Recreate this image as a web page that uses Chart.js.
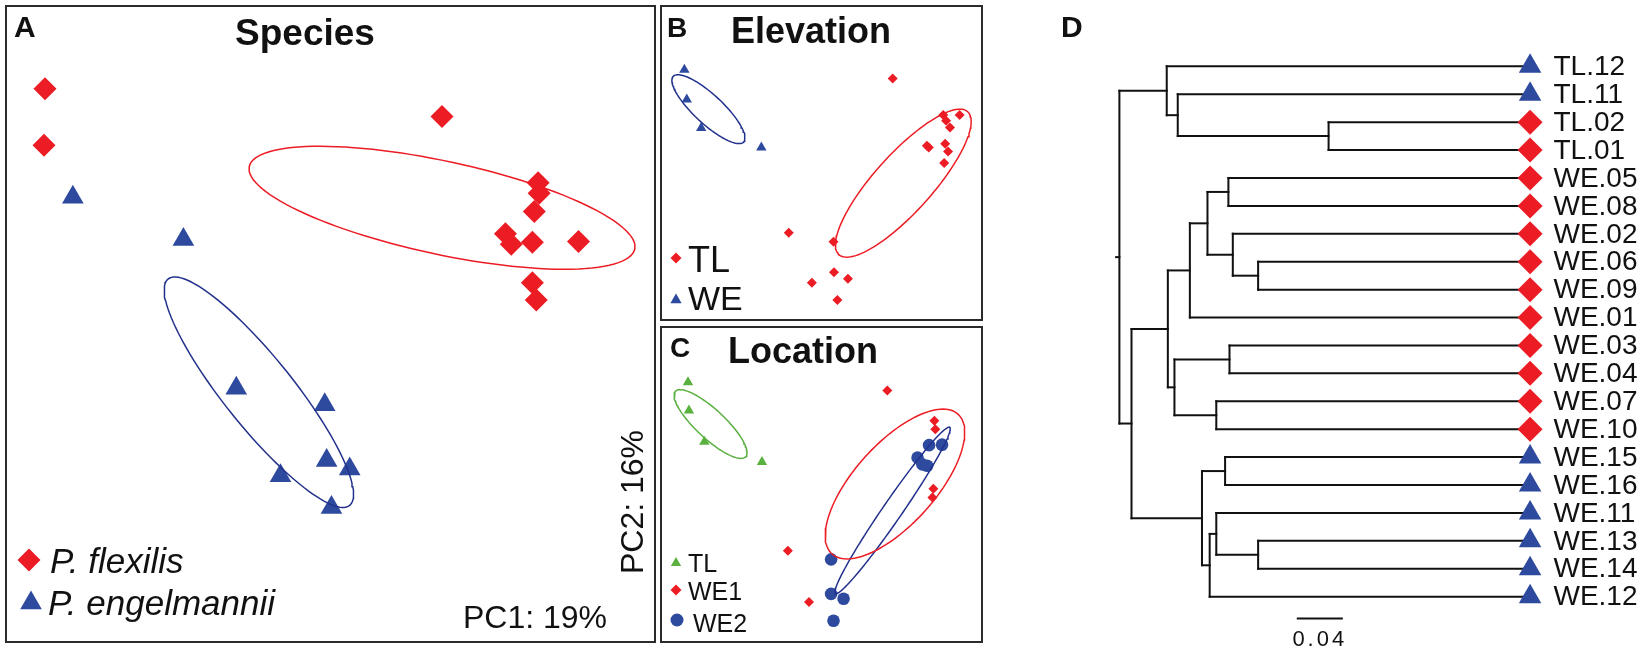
<!DOCTYPE html>
<html>
<head>
<meta charset="utf-8">
<script src="https://cdn.jsdelivr.net/npm/chart.js@4.4.1/dist/chart.umd.min.js"></script>
<style>
  body { margin: 0; background: #fff; width: 1650px; height: 663px; position: relative; overflow: hidden; }
  .box { position: absolute; box-sizing: border-box; border: 2px solid #2b2b2b; }
  canvas { position: absolute; }
</style>
</head>
<body>
<div class="box" style="left:5px;top:5px;width:651px;height:638px"></div>
<div class="box" style="left:660px;top:5px;width:323px;height:316px"></div>
<div class="box" style="left:660px;top:326px;width:323px;height:317px"></div>
<canvas id="chartA" width="647" height="634" style="left:7px;top:7px"></canvas>
<canvas id="chartB" width="319" height="312" style="left:662px;top:7px"></canvas>
<canvas id="chartC" width="319" height="313" style="left:662px;top:328px"></canvas>
<canvas id="chartD" width="610" height="663" style="left:1040px;top:0px"></canvas>
<script>
// PCA scores (PC1 = x, PC2 = y, arbitrary units)

// A - Species
var speciesFlexX = [-2.97, -2.98, 1.16, 2.16, 2.17, 2.12, 1.82, 1.88, 2.10, 2.58, 2.10, 2.14];
var speciesFlexY = [2.45, 1.86, 2.16, 1.47, 1.36, 1.17, 0.94, 0.83, 0.85, 0.86, 0.43, 0.25];
var speciesEngX = [-2.68, -1.53, -0.98, -0.06, -0.04, 0.20, -0.52, 0.01];
var speciesEngY = [1.32, 0.88, -0.67, -0.84, -1.42, -1.51, -1.58, -1.91];
// ellipses: [centre x, centre y, semi-major, semi-minor, angle deg]
var speciesFlexEllipse = [1.16, 1.21, 2.05, 0.485, -12.1];
var speciesEngEllipse = [-0.745, -0.71, 1.51, 0.36, -51.3];

// B - Elevation
var elevTLX = [1.48, -0.68, 0.25, 0.26, 0.55, -0.20, 0.33, 2.53, 2.59, 2.67, 2.87, 2.19, 2.23, 2.57, 2.63, 2.55];
var elevTLY = [1.76, -1.45, -1.64, -2.27, -2.41, -2.49, -2.85, 1.00, 0.88, 0.74, 1.00, 0.36, 0.32, 0.40, 0.24, 0.00];
var elevWEX = [-2.85, -2.80, -2.50, -1.25];
var elevWEY = [1.94, 1.32, 0.73, 0.32];
var elevTLEllipse = [1.70, -0.42, 2.0, 0.6, 48];
var elevWEEllipse = [-2.35, 1.12, 1.0, 0.3, -43];

// C - Location
var locTLX = [-2.78, -2.76, -2.44, -1.24];
var locTLY = [2.13, 1.54, 0.89, 0.47];
var locWE1X = [1.37, -0.70, -0.26, 2.35, 2.37, 2.33, 2.31];
var locWE1Y = [1.96, -1.38, -2.45, 1.33, 1.15, -0.09, -0.27];
var locWE2X = [0.20, 0.20, 0.46, 0.25, 2.00, 2.10, 2.24, 2.20, 2.51];
var locWE2Y = [-1.56, -2.28, -2.38, -2.84, 0.56, 0.42, 0.82, 0.39, 0.83];
var locTLEllipse = [-2.31, 1.26, 1.0, 0.3, -43];
var locWE1Ellipse = [1.53, 0.01, 1.96, 0.84, 48];
var locWE2Ellipse = [1.48, -0.54, 2.1, 0.2, 55.5];

// D - tree
var leafNames = ['TL.12', 'TL.11', 'TL.02', 'TL.01', 'WE.05', 'WE.08', 'WE.02', 'WE.06', 'WE.09', 'WE.01',
                 'WE.03', 'WE.04', 'WE.07', 'WE.10', 'WE.15', 'WE.16', 'WE.11', 'WE.13', 'WE.14', 'WE.12'];
var leafSpecies = ['eng', 'eng', 'flex', 'flex', 'flex', 'flex', 'flex', 'flex', 'flex', 'flex',
                   'flex', 'flex', 'flex', 'flex', 'eng', 'eng', 'eng', 'eng', 'eng', 'eng'];
// [node, child 1, child 2, distance from root]
var treeMerges = [
  ['n1', 'TL.02', 'TL.01', 0.190],
  ['n2', 'TL.11', 'n1', 0.053],
  ['n3', 'TL.12', 'n2', 0.043],
  ['n4', 'WE.05', 'WE.08', 0.099],
  ['n5', 'WE.06', 'WE.09', 0.126],
  ['n6', 'WE.02', 'n5', 0.103],
  ['n7', 'n4', 'n6', 0.080],
  ['n8', 'n7', 'WE.01', 0.064],
  ['n9', 'WE.03', 'WE.04', 0.100],
  ['n10', 'WE.07', 'WE.10', 0.088],
  ['n11', 'n9', 'n10', 0.050],
  ['n12', 'n8', 'n11', 0.044],
  ['n13', 'WE.15', 'WE.16', 0.096],
  ['n14', 'WE.13', 'WE.14', 0.126],
  ['n15', 'WE.11', 'n14', 0.088],
  ['n16', 'n15', 'WE.12', 0.082],
  ['n17', 'n13', 'n16', 0.075],
  ['n18', 'n12', 'n17', 0.011],
  ['root', 'n3', 'n18', 0]
];
var leafDepth = 0.367;
var scaleBarLength = 0.04;

var FONT = '"Liberation Sans", Arial, sans-serif';
var RED = '#ec1c24', BLUE = '#2d4a9e', GREEN = '#5ab140', NAVY = '#22318c';

function toPoints(xs, ys) {
  return xs.map(function (x, i) { return { x: x, y: ys[i] }; });
}

function ellipsePath(e) {
  var pts = [], ang = e[4] * Math.PI / 180;
  for (var k = 0; k <= 120; k++) {
    var t = k * Math.PI / 60;
    var px = e[2] * Math.cos(t), py = e[3] * Math.sin(t);
    pts.push({ x: e[0] + px * Math.cos(ang) - py * Math.sin(ang), y: e[1] + px * Math.sin(ang) + py * Math.cos(ang) });
  }
  return pts;
}

function markSet(xs, ys, style, r, color) {
  return { data: toPoints(xs, ys), pointStyle: style, pointRadius: r, pointHoverRadius: r,
           backgroundColor: color, borderColor: color, borderWidth: 0, showLine: false };
}

function ellipseSet(e, color) {
  return { data: ellipsePath(e), showLine: true, pointRadius: 0, borderColor: color,
           borderWidth: 1.5, fill: false, tension: 0 };
}

function drawMarker(ctx, style, x, y, r, color) {
  ctx.fillStyle = color;
  ctx.beginPath();
  if (style === 'rectRot') {
    ctx.moveTo(x - r, y); ctx.lineTo(x, y - r); ctx.lineTo(x + r, y); ctx.lineTo(x, y + r);
  } else if (style === 'triangle') {
    ctx.moveTo(x, y - r); ctx.lineTo(x + 0.866 * r, y + 0.5 * r); ctx.lineTo(x - 0.866 * r, y + 0.5 * r);
  } else {
    ctx.arc(x, y, r, 0, Math.PI * 2);
  }
  ctx.closePath();
  ctx.fill();
}

// texts and legend keys, given in page pixels
function textPlugin(id, left, top, items) {
  return {
    id: id,
    afterDraw: function (chart) {
      var ctx = chart.ctx;
      ctx.save();
      items.forEach(function (it) {
        var x = it.x - left, y = it.y - top;
        if (it.marker) { drawMarker(ctx, it.marker, x, y, it.r, it.color); return; }
        ctx.font = it.font;
        ctx.fillStyle = '#111';
        ctx.textAlign = it.align || 'left';
        ctx.textBaseline = 'alphabetic';
        if (it.rot) {
          ctx.save(); ctx.translate(x, y); ctx.rotate(it.rot); ctx.fillText(it.t, 0, 0); ctx.restore();
        } else {
          ctx.fillText(it.t, x, y);
        }
      });
      ctx.restore();
    }
  };
}

function scatterPanel(id, xr, yr, datasets, plugin) {
  return new Chart(document.getElementById(id), {
    type: 'scatter',
    data: { datasets: datasets },
    options: {
      responsive: false, animation: false, devicePixelRatio: 1,
      layout: { padding: 0 },
      plugins: { legend: { display: false }, tooltip: { enabled: false } },
      scales: {
        x: { type: 'linear', display: false, min: xr[0], max: xr[1] },
        y: { type: 'linear', display: false, min: yr[0], max: yr[1] }
      }
    },
    plugins: [plugin]
  });
}

// Panel A
scatterPanel('chartA', [-3.235, 3.235], [-3.17, 3.17], [
  ellipseSet(speciesFlexEllipse, RED),
  ellipseSet(speciesEngEllipse, NAVY),
  markSet(speciesFlexX, speciesFlexY, 'rectRot', 11.5, RED),
  markSet(speciesEngX, speciesEngY, 'triangle', 12.5, BLUE)
], textPlugin('textA', 7, 7, [
  { t: 'A', x: 14, y: 37, font: 'bold 30px ' + FONT },
  { t: 'Species', x: 305, y: 45, font: 'bold 37px ' + FONT, align: 'center' },
  { marker: 'rectRot', x: 29, y: 560, r: 11.5, color: RED },
  { t: 'P. flexilis', x: 50, y: 573, font: 'italic 35px ' + FONT },
  { marker: 'triangle', x: 31, y: 603, r: 12.5, color: BLUE },
  { t: 'P. engelmannii', x: 48, y: 615, font: 'italic 35px ' + FONT },
  { t: 'PC1: 19%', x: 607, y: 628, font: '32px ' + FONT, align: 'right' },
  { t: 'PC2: 16%', x: 643, y: 502, font: '32px ' + FONT, align: 'center', rot: -Math.PI / 2 }
]));

// Panel B
scatterPanel('chartB', [-3.19, 3.19], [-3.12, 3.12], [
  ellipseSet(elevTLEllipse, RED),
  ellipseSet(elevWEEllipse, NAVY),
  markSet(elevTLX, elevTLY, 'rectRot', 5, RED),
  markSet(elevWEX, elevWEY, 'triangle', 6, BLUE)
], textPlugin('textB', 662, 7, [
  { t: 'B', x: 667, y: 37, font: 'bold 28px ' + FONT },
  { t: 'Elevation', x: 811, y: 43, font: 'bold 36px ' + FONT, align: 'center' },
  { marker: 'rectRot', x: 676, y: 258, r: 5.5, color: RED },
  { t: 'TL', x: 688, y: 272, font: '36px ' + FONT },
  { marker: 'triangle', x: 676, y: 300, r: 6.5, color: BLUE },
  { t: 'WE', x: 688, y: 310, font: '34px ' + FONT }
]));

// Panel C
scatterPanel('chartC', [-3.19, 3.19], [-3.13, 3.13], [
  ellipseSet(locTLEllipse, GREEN),
  ellipseSet(locWE1Ellipse, RED),
  ellipseSet(locWE2Ellipse, NAVY),
  markSet(locTLX, locTLY, 'triangle', 6, GREEN),
  markSet(locWE1X, locWE1Y, 'rectRot', 5, RED),
  markSet(locWE2X, locWE2Y, 'circle', 6.3, BLUE)
], textPlugin('textC', 662, 328, [
  { t: 'C', x: 670, y: 357, font: 'bold 28px ' + FONT },
  { t: 'Location', x: 728, y: 363, font: 'bold 36px ' + FONT },
  { marker: 'triangle', x: 676, y: 563, r: 6, color: GREEN },
  { t: 'TL', x: 688, y: 572, font: '25px ' + FONT },
  { marker: 'rectRot', x: 676, y: 590, r: 5.5, color: RED },
  { t: 'WE1', x: 688, y: 600, font: '25px ' + FONT },
  { marker: 'circle', x: 677, y: 620, r: 6.5, color: BLUE },
  { t: 'WE2', x: 693, y: 632, font: '25px ' + FONT }
]));

// Panel D - build the tree segments from the merges
var nodePos = {};
leafNames.forEach(function (n, i) { nodePos[n] = { x: leafDepth, y: i }; });
var treeSets = [];
function seg(x1, y1, x2, y2) {
  treeSets.push({ data: [{ x: x1, y: y1 }, { x: x2, y: y2 }], showLine: true, pointRadius: 0,
                  borderColor: '#111', borderWidth: 2, borderCapStyle: 'square', tension: 0 });
}
treeMerges.forEach(function (m) {
  var a = nodePos[m[1]], b = nodePos[m[2]], d = m[3];
  nodePos[m[0]] = { x: d, y: (a.y + b.y) / 2 };
  seg(d, a.y, d, b.y);
  seg(d, a.y, a.x, a.y);
  seg(d, b.y, b.x, b.y);
});
var rootPos = nodePos.root;
seg(rootPos.x - 0.003, rootPos.y, rootPos.x, rootPos.y);
// scale bar
var barStart = 0.162, barY = 19.78;
seg(barStart, barY, barStart + scaleBarLength, barY);

var leafMarks = {
  data: leafNames.map(function (n, i) { return { x: leafDepth + 0.006, y: i }; }),
  showLine: false,
  pointStyle: leafSpecies.map(function (s) { return s === 'flex' ? 'rectRot' : 'triangle'; }),
  pointRadius: leafSpecies.map(function (s) { return s === 'flex' ? 12.5 : 13; }),
  backgroundColor: leafSpecies.map(function (s) { return s === 'flex' ? RED : BLUE; }),
  borderWidth: 0
};

var treeLabels = {
  id: 'treeLabels',
  afterDraw: function (chart) {
    var ctx = chart.ctx, xs = chart.scales.x, ys = chart.scales.y;
    ctx.save();
    ctx.fillStyle = '#111';
    ctx.font = '28px ' + FONT;
    ctx.textBaseline = 'middle';
    ctx.textAlign = 'left';
    leafNames.forEach(function (n, i) {
      ctx.fillText(n, xs.getPixelForValue(leafDepth) + 30, ys.getPixelForValue(i) + 1);
    });
    ctx.font = 'bold 30px ' + FONT;
    ctx.textBaseline = 'alphabetic';
    ctx.fillText('D', 1061 - 1040, 37);
    ctx.font = '22px ' + FONT;
    ctx.textAlign = 'center';
    ctx.letterSpacing = '3px';
    ctx.fillText(String(scaleBarLength), xs.getPixelForValue(barStart + scaleBarLength / 2),
                 ys.getPixelForValue(barY) + 28);
    ctx.restore();
  }
};

new Chart(document.getElementById('chartD'), {
  type: 'scatter',
  data: { datasets: [leafMarks].concat(treeSets) },
  options: {
    responsive: false, animation: false, devicePixelRatio: 1,
    layout: { padding: 0 },
    plugins: { legend: { display: false }, tooltip: { enabled: false } },
    scales: {
      x: { type: 'linear', display: false, min: -0.0603, max: 0.4701 },
      y: { type: 'linear', display: false, reverse: true, min: -1.91, max: 20.91 }
    }
  },
  plugins: [treeLabels]
});
</script>
</body>
</html>
